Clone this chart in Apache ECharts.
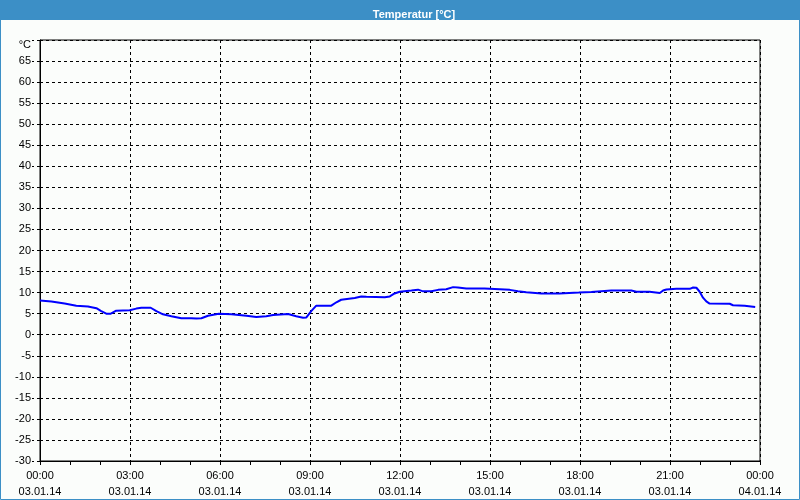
<!DOCTYPE html>
<html>
<head>
<meta charset="utf-8">
<script src="https://cdn.jsdelivr.net/npm/echarts@6/dist/echarts.min.js"></script>
<style>
html,body{margin:0;padding:0;background:#fbfdfb;}
#c{width:800px;height:500px;}
</style>
</head>
<body>
<div id="c"></div>
<script>
const titleText = 'Temperatur [°C]';
const unitLabel = '°C';
const xTickHours = [0, 3, 6, 9, 12, 15, 18, 21, 24];
const xTickTimes = ['00:00', '03:00', '06:00', '09:00', '12:00', '15:00', '18:00', '21:00', '00:00'];
const xTickDates = ['03.01.14', '03.01.14', '03.01.14', '03.01.14', '03.01.14', '03.01.14', '03.01.14', '03.01.14', '04.01.14'];
const hours = [0, 0.38, 0.82, 1.21, 1.6, 1.88, 2.04, 2.21, 2.36, 2.54, 2.99, 3.21, 3.38, 3.69, 3.88, 4.1, 4.38, 4.71, 5.04, 5.21, 5.38, 5.6, 5.96, 6.38, 6.88, 7.21, 7.54, 7.77, 8.27, 8.54, 8.77, 8.88, 9.04, 9.21, 9.38, 9.71, 9.88, 10.04, 10.49, 10.71, 10.88, 11.49, 11.66, 11.82, 11.99, 12.38, 12.6, 12.77, 13.04, 13.27, 13.54, 13.77, 13.93, 14.21, 14.82, 14.88, 15.66, 15.93, 16.21, 16.71, 17.32, 17.38, 17.96, 18.38, 19.04, 19.32, 19.38, 19.71, 19.88, 20.32, 20.38, 20.66, 20.77, 20.88, 21.21, 21.66, 21.77, 21.88, 21.99, 22.1, 22.21, 22.32, 22.99, 23.1, 23.49, 23.54, 23.84];
const temps = [8.1, 7.9, 7.4, 6.9, 6.7, 6.3, 5.6, 5.0, 5.0, 5.7, 5.8, 6.2, 6.4, 6.4, 5.6, 4.85, 4.4, 3.9, 3.9, 3.85, 3.9, 4.5, 5.0, 4.85, 4.5, 4.2, 4.4, 4.7, 4.9, 4.4, 4.05, 4.1, 5.6, 6.9, 6.9, 6.9, 7.7, 8.3, 8.7, 9.05, 9.0, 8.9, 9.1, 9.8, 10.2, 10.5, 10.7, 10.3, 10.3, 10.65, 10.8, 11.3, 11.2, 11.0, 11.0, 10.65, 10.65, 10.3, 10.1, 9.8, 9.8, 10.0, 10.0, 10.15, 10.5, 10.5, 10.2, 10.5, 10.2, 10.2, 9.9, 9.9, 10.5, 10.75, 10.9, 10.9, 11.2, 11.15, 10.2, 8.8, 7.9, 7.4, 7.35, 7.0, 6.85, 6.6, 6.6];

const data = hours.map((h, i) => [h, temps[i]]);
const font = 'Liberation Sans';

const chart = echarts.init(document.getElementById('c'), null, {renderer: 'canvas'});
chart.setOption({
  backgroundColor: '#fbfdfb',
  animation: false,
  title: {
    text: titleText,
    left: 409, top: 4,
    textAlign: 'center',
    textStyle: {color: '#ffffff', fontSize: 11, fontWeight: 'bold', fontFamily: font}
  },
  graphic: [
    {type: 'rect', z: -1, shape: {x: 0, y: 0, width: 800, height: 20}, style: {fill: '#3c8fc6'}},
    {type: 'rect', z: -1, shape: {x: 0.5, y: 0.5, width: 799, height: 499}, style: {fill: null, stroke: '#3c8fc6', lineWidth: 1}}
  ],
  grid: {left: 40, right: 40, top: 40, bottom: 38, show: true, borderColor: '#000', borderWidth: 1, backgroundColor: 'transparent'},
  xAxis: {
    type: 'value', min: 0, max: 24, interval: 3,
    axisLine: {show: true, onZero: false, lineStyle: {color: '#000', width: 1}},
    axisTick: {show: true, length: 4, lineStyle: {color: '#000'}},
    minorTick: {show: true, splitNumber: 3, length: 4, lineStyle: {color: '#000'}},
    splitLine: {show: true, lineStyle: {color: '#000', type: [3, 3], width: 1}},
    axisLabel: {
      margin: 7, color: '#000', fontSize: 11, fontFamily: font, lineHeight: 16,
      formatter: v => {
        const i = xTickHours.indexOf(v);
        return i >= 0 ? xTickTimes[i] + '\n' + xTickDates[i] : '';
      }
    }
  },
  yAxis: {
    type: 'value', min: -30, max: 70, interval: 5,
    axisLine: {show: true, onZero: false, lineStyle: {color: '#000', width: 1}},
    axisTick: {show: true, length: 8, lineStyle: {color: '#000', type: [3, 3]}},
    splitLine: {show: true, lineStyle: {color: '#000', type: [3, 3], width: 1}},
    axisLabel: {
      margin: 9, color: '#000', fontSize: 11, fontFamily: font,
      formatter: v => v === 70 ? '{u|' + unitLabel + '}' : String(v),
      rich: {u: {fontSize: 11, fontFamily: font, color: '#000', padding: [10, 0, 0, 0]}}
    }
  },
  series: [{
    type: 'line', data: data, showSymbol: false, smooth: false,
    lineStyle: {color: '#0000ff', width: 2},
    itemStyle: {color: '#0000ff'}
  }]
});
</script>
</body>
</html>
